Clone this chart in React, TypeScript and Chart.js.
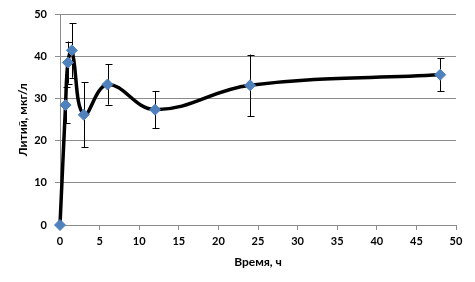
import React, { useEffect, useRef } from "react";
import { Chart, registerables } from "chart.js";

Chart.register(...registerables);

const times = [0, 0.7, 1, 1.5, 3, 6, 12, 24, 48];
const lithium = [0, 28.5, 38.6, 41.5, 26.2, 33.4, 27.4, 33.2, 35.7];
const errors = [0, 4.2, 5, 6.5, 7.7, 4.8, 4.4, 7.3, 3.9];
const xTitle = "Время, ч";
const yTitle = "Литий, мкг/л";

const FONT = "Lato, 'Open Sans', sans-serif";
const GRID = "#8c8c8c";

const errorBarPlugin = {
  id: "errorBars",
  beforeDatasetsDraw(chart: any) {
    const { ctx, scales } = chart;
    const xs = scales.x;
    const ys = scales.y;
    ctx.save();
    ctx.strokeStyle = "#000";
    ctx.lineWidth = 1;
    times.forEach((t, i) => {
      const e = errors[i];
      if (!e) return;
      const px = Math.round(xs.getPixelForValue(t)) + 0.5;
      const top = ys.getPixelForValue(lithium[i] + e);
      const bot = ys.getPixelForValue(lithium[i] - e);
      ctx.beginPath();
      ctx.moveTo(px, top);
      ctx.lineTo(px, bot);
      ctx.moveTo(px - 3, Math.round(top) + 0.5);
      ctx.lineTo(px + 4, Math.round(top) + 0.5);
      ctx.moveTo(px - 3, Math.round(bot) + 0.5);
      ctx.lineTo(px + 4, Math.round(bot) + 0.5);
      ctx.stroke();
    });
    ctx.restore();
  },
};

export default function App() {
  const ref = useRef<HTMLCanvasElement>(null);
  useEffect(() => {
    document.body.style.margin = "0";
    const chart = new Chart(ref.current!, {
      type: "line",
      data: {
        datasets: [
          {
            data: times.map((t, i) => ({ x: t, y: lithium[i] })),
            borderColor: "#000",
            borderWidth: 3.5,
            tension: 0.4,
            clip: false,
            pointStyle: "rectRot",
            pointRadius: 5.5,
            pointBackgroundColor: "#4F81BD",
            pointBorderColor: "#4F81BD",
            pointBorderWidth: 1,
          },
        ],
      },
      options: {
        responsive: false,
        animation: false,
        layout: { padding: { left: 0, right: 19, top: 13, bottom: 0 } },
        plugins: { legend: { display: false }, tooltip: { enabled: false } },
        scales: {
          x: {
            type: "linear",
            min: 0,
            max: 50,
            afterFit: (s: any) => {
              s.height = 57;
            },
            ticks: {
              stepSize: 5,
              padding: 5,
              color: "#000",
              font: { family: FONT, size: 11, weight: "bold" },
            },
            grid: { drawOnChartArea: false, color: GRID, tickLength: 5 },
            border: { color: GRID },
            title: {
              display: true,
              text: xTitle,
              color: "#000",
              font: { family: FONT, size: 12, weight: "bold" },
              padding: { top: 0, bottom: 13 },
            },
          },
          y: {
            min: 0,
            max: 50,
            afterFit: (s: any) => {
              s.width = 60;
            },
            ticks: {
              stepSize: 10,
              padding: 8,
              color: "#000",
              font: { family: FONT, size: 11, weight: "bold" },
            },
            grid: { color: GRID, tickLength: 5 },
            border: { color: GRID },
            title: {
              display: true,
              text: yTitle,
              color: "#000",
              font: { family: FONT, size: 12, weight: "bold" },
              padding: { top: 16, bottom: 0 },
            },
          },
        },
      },
      plugins: [errorBarPlugin],
    });
    return () => chart.destroy();
  }, []);
  return (
    <div style={{ width: 475, height: 282, background: "#fff" }}>
      <canvas ref={ref} width={475} height={282} />
    </div>
  );
}
